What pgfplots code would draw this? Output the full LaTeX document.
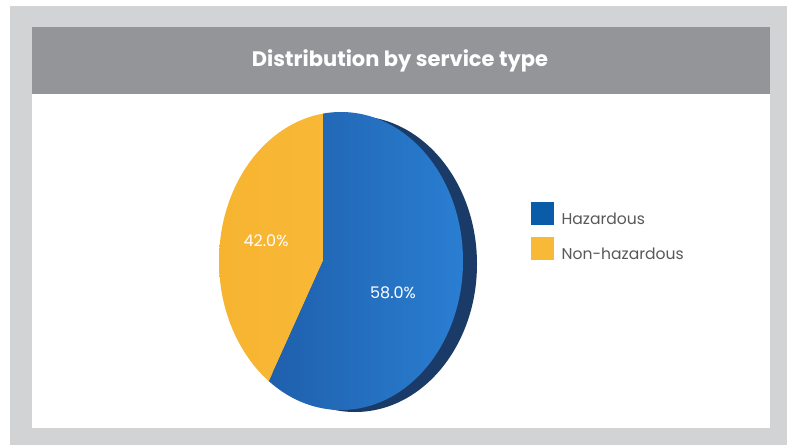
\documentclass[border=0pt]{standalone}
\usepackage{pgfplots}
\pgfplotsset{compat=1.18}
\usepackage{pgfplotstable}
\usepackage{fontspec}
\setmainfont{Poppins}

\definecolor{framegrey}{HTML}{D1D3D4}
\definecolor{headgrey}{HTML}{939598}
\definecolor{hazblue}{HTML}{0B5CA8}
\definecolor{nonyellow}{HTML}{F8B936}
\definecolor{faceL}{HTML}{1C58A2}
\definecolor{faceR}{HTML}{2A7ED2}
\definecolor{sidedark}{HTML}{1A3B68}
\definecolor{pieY}{HTML}{FBBD3A}
\definecolor{pieYd}{HTML}{F6B431}
\definecolor{txtgrey}{HTML}{58595B}

% share of each service type, percent
\pgfplotstableread{
type share
Hazardous 58.0
Non-hazardous 42.0
}\sharetable

\begin{document}
\begin{tikzpicture}
\pgfplotstablegetelem{0}{share}\of\sharetable \let\hz\pgfplotsretval
\pgfplotstablegetelem{1}{share}\of\sharetable \let\nh\pgfplotsretval
\pgfmathsetmacro{\cut}{90+3.6*\nh}
\begin{axis}[
    scale only axis,
    width=787pt, height=445pt,
    xmin=0, xmax=787, ymin=0, ymax=445,
    hide axis, clip=false,
    legend style={
        at={(axis cs:531,213.5)}, anchor=west,
        draw=none, fill=none, inner sep=0pt,
        font=\fontsize{15.6}{18}\selectfont, text=txtgrey,
        row sep=11pt,
        nodes={inner sep=0pt},
        cells={anchor=west},
        /tikz/every odd column/.append style={column sep=8pt},
    },
]
% panels
\fill[white] (axis cs:0,0) rectangle (axis cs:787,445);
\fill[framegrey] (axis cs:10,0) rectangle (axis cs:787,439);
\fill[white] (axis cs:32,17) rectangle (axis cs:770,418);
\fill[headgrey] (axis cs:32,351) rectangle (axis cs:770,418);
\node[white, font=\fontsize{21}{24}\selectfont\bfseries]
    at (axis cs:400,384) {Distribution by service type};

% side of the disc
\fill[sidedark] (axis cs:355,181) ellipse [x radius=122pt, y radius=148pt];

% non-hazardous slice
\begin{scope}
  \clip (axis cs:341,184) ellipse [x radius=122pt, y radius=149pt];
  \clip (axis cs:323,184) -- +(90:244pt and 298pt)
      arc[start angle=90, end angle=\cut, x radius=244pt, y radius=298pt] -- cycle;
  \shade[left color=pieYd, right color=pieY]
      (axis cs:341,184) ellipse [x radius=122pt, y radius=149pt];
\end{scope}
% hazardous slice
\begin{scope}
  \clip (axis cs:341,184) ellipse [x radius=122pt, y radius=149pt];
  \clip (axis cs:323,184) -- +(\cut:244pt and 298pt)
      arc[start angle=\cut, end angle=450, x radius=244pt, y radius=298pt] -- cycle;
  \shade[left color=faceL, right color=faceR]
      (axis cs:341,184) ellipse [x radius=122pt, y radius=149pt];
\end{scope}

\node[white, font=\fontsize{16}{19}\selectfont] at (axis cs:266,204)
    {\pgfmathprintnumber[fixed, fixed zerofill, precision=1, assume math mode=true]{\nh}\%};
\node[white, font=\fontsize{16}{19}\selectfont] at (axis cs:393,152)
    {\pgfmathprintnumber[fixed, fixed zerofill, precision=1, assume math mode=true]{\hz}\%};

\addlegendimage{legend image code/.code={\fill[hazblue] (0pt,-5pt) rectangle (22pt,17pt);}}
\addlegendentry{Hazardous}
\addlegendimage{legend image code/.code={\fill[nonyellow] (0pt,-5pt) rectangle (22pt,17pt);}}
\addlegendentry{Non-hazardous}
\end{axis}
\end{tikzpicture}
\end{document}
